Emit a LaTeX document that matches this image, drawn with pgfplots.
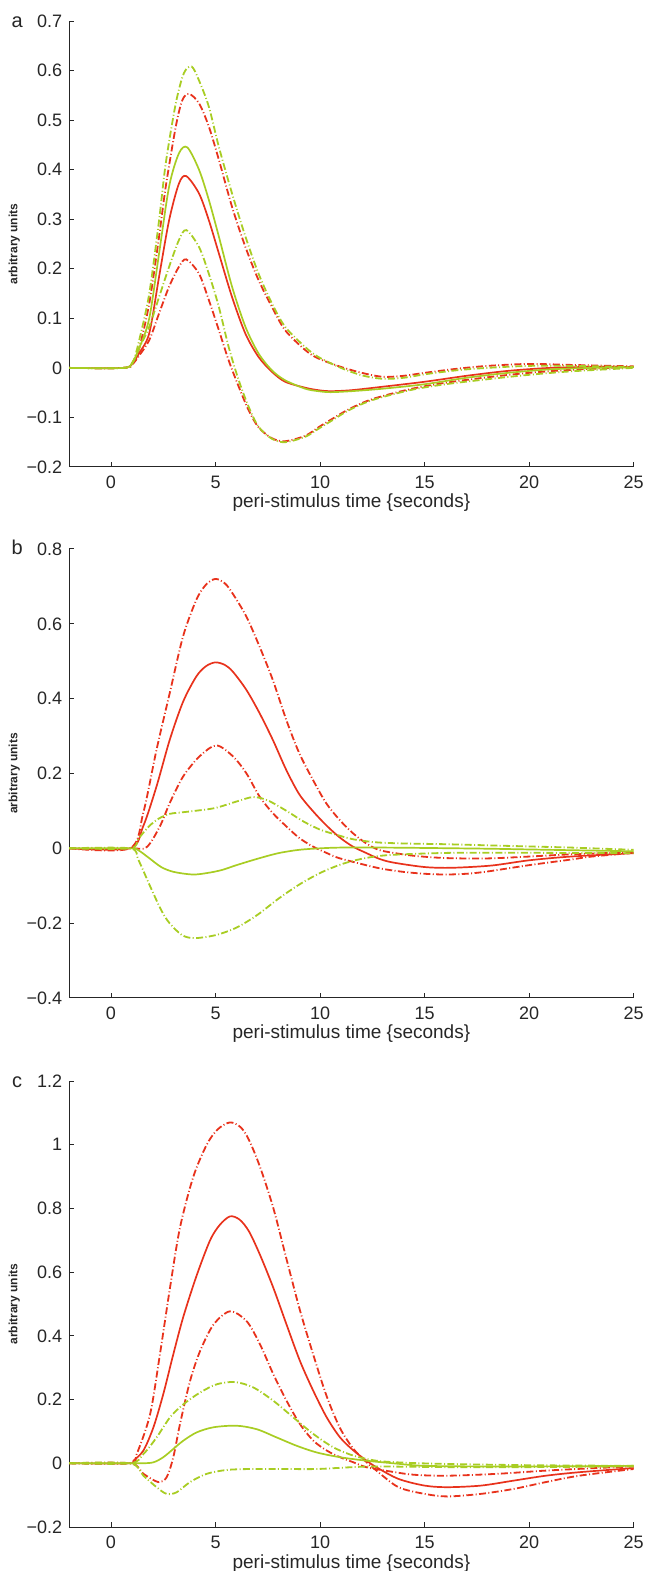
\documentclass[border=0pt]{standalone}
\usepackage{fontspec}
\setmainfont{Liberation Sans}
\usepackage{pgfplots}
\pgfplotsset{compat=1.18}

\definecolor{hrfred}{RGB}{232,50,28}
\definecolor{hrfgreen}{RGB}{168,205,35}

\tikzset{letter/.style={font=\fontsize{10}{12}\selectfont, text=black!85, anchor=base}}
\pgfplotsset{
  panel/.style={
    width=282.2pt, scale only axis, clip=false,
    xmin=-2, xmax=25, xtick={0,5,10,15,20,25},
    axis x line*=bottom, axis y line*=left,
    tick align=inside, major tick length=2.5pt,
    axis line style={line width=0.5pt, black!85},
    tick style={line width=0.5pt, black!85},
    /pgf/number format/assume math mode=true,
    tick label style={font=\fontsize{9}{10}\selectfont, text=black!85},
    xticklabel style={yshift=-1pt},
    xlabel={peri-stimulus time \{seconds\}},
    xlabel style={font=\fontsize{9.5}{11}\selectfont, text=black!85,
      at={(axis description cs:0.5,0)}, anchor=base, yshift=-20.5pt},
    ylabel={arbitrary units},
    ylabel style={font=\fontsize{6}{7}\selectfont\bfseries, text=black!85,
      at={(axis description cs:-0.0975,0.5)}, anchor=center},
    no markers,
  },
  mean/.style={line width=0.85pt, smooth, tension=0.5},
  band/.style={line width=0.9pt, smooth, tension=0.5,
    dash pattern=on 3.5pt off 1.2pt on 0.5pt off 1.2pt},
}

\begin{document}
\begin{tikzpicture}
\useasboundingbox (-34.6pt,-22pt) rectangle (288.9pt,763.5pt);

% ---------------- panel a
\begin{axis}[panel, at={(0pt,530pt)}, anchor=south west, height=223pt,
  ymin=-0.2, ymax=0.7, ytick={-0.2,-0.1,0,0.1,0.2,0.3,0.4,0.5,0.6,0.7},
  yticklabels={−0.2,−0.1,0,0.1,0.2,0.3,0.4,0.5,0.6,0.7}]
\addplot[band, hrfred] coordinates {
 (-2,0) (0.6,0) (1.03,0.008) (1.35,0.04) (1.83,0.13) (2.30,0.265) (2.62,0.366)
 (3.10,0.487) (3.41,0.54) (3.73,0.553) (4.21,0.534) (4.68,0.487) (5.16,0.42)
 (5.79,0.325) (6.43,0.244) (7.06,0.177) (7.70,0.123) (8.33,0.076) (9.29,0.036)
 (9.92,0.019) (11,0.002) (12,-0.01) (13,-0.018) (14,-0.016) (15,-0.01)
 (16.5,-0.002) (18,0.004) (20,0.008) (22,0.006) (25,0.003)};
\addplot[band, hrfred] coordinates {
 (-2,0) (0.6,0) (1.03,0.008) (1.35,0.025) (1.83,0.056) (2.30,0.11) (2.78,0.164)
 (3.25,0.204) (3.6,0.219) (4.21,0.19) (4.68,0.137) (5.16,0.076) (5.63,0.015)
 (6.11,-0.038) (6.59,-0.086) (7.06,-0.12) (7.70,-0.142) (8.33,-0.148)
 (9.29,-0.137) (9.92,-0.12) (10.5,-0.105) (11.4,-0.083) (12.5,-0.063)
 (14.3,-0.043) (16,-0.03) (18.2,-0.018) (20,-0.01) (22,-0.004) (25,0.002)};
\addplot[mean, hrfred] coordinates {
 (-2,0) (0.6,0) (1.03,0.01) (1.35,0.03) (1.83,0.07) (2.30,0.184) (2.78,0.298)
 (3.25,0.372) (3.6,0.387) (4.21,0.352) (4.68,0.298) (5.16,0.231) (5.79,0.143)
 (6.43,0.069) (7.06,0.022) (7.70,-0.008) (8.33,-0.028) (9.29,-0.04)
 (9.92,-0.045) (10.5,-0.047) (11.5,-0.045) (13,-0.038) (15,-0.028)
 (17,-0.016) (19,-0.006) (21,0) (23,0.002) (25,0.002)};
\addplot[band, hrfgreen] coordinates {
 (-2,0) (0.6,0) (1.03,0.01) (1.35,0.056) (1.83,0.15) (2.30,0.298) (2.62,0.413)
 (3.10,0.534) (3.49,0.595) (3.86,0.608) (4.21,0.58) (4.68,0.527) (5.16,0.446)
 (5.79,0.352) (6.43,0.265) (7.06,0.19) (7.70,0.13) (8.33,0.083) (9.29,0.042)
 (9.92,0.022) (11,0.0) (12,-0.015) (13,-0.022) (14,-0.02) (15,-0.013)
 (16.5,-0.005) (18,0) (20,0.004) (22,0.004) (25,0.002)};
\addplot[band, hrfgreen] coordinates {
 (-2,0) (0.6,0) (1.03,0.01) (1.35,0.04) (1.83,0.083) (2.30,0.143) (2.78,0.204)
 (3.25,0.258) (3.6,0.278) (4.21,0.244) (4.68,0.19) (5.16,0.123) (5.63,0.042)
 (6.11,-0.025) (6.59,-0.079) (7.06,-0.119) (7.70,-0.143) (8.33,-0.15)
 (9.29,-0.139) (9.92,-0.123) (10.5,-0.108) (11.4,-0.085) (12.5,-0.065)
 (14.3,-0.045) (16,-0.033) (18.2,-0.022) (20,-0.014) (22,-0.007) (25,0)};
\addplot[mean, hrfgreen] coordinates {
 (-2,0) (0.6,0) (1.03,0.012) (1.35,0.04) (1.83,0.1) (2.30,0.231) (2.78,0.366)
 (3.25,0.433) (3.65,0.445) (4.21,0.4) (4.68,0.339) (5.16,0.265) (5.79,0.164)
 (6.43,0.083) (7.06,0.029) (7.70,-0.005) (8.33,-0.025) (9.29,-0.042)
 (9.92,-0.047) (10.5,-0.049) (11.5,-0.047) (13,-0.042) (15,-0.033)
 (17,-0.02) (19,-0.01) (21,-0.003) (23,0) (25,0.001)};
\node[letter] at (axis description cs:-0.0921,1) [yshift=-3pt] {a};
\end{axis}

% ---------------- panel b
\begin{axis}[panel, at={(0pt,264.5pt)}, anchor=south west, height=224.5pt,
  ymin=-0.4, ymax=0.8, ytick={-0.4,-0.2,0,0.2,0.4,0.6,0.8},
  yticklabels={−0.4,−0.2,0,0.2,0.4,0.6,0.8}]
\addplot[band, hrfred] coordinates {
 (-2,0) (0.9,0) (1.54,0.094) (2.18,0.264) (2.81,0.415) (3.45,0.567)
 (4.09,0.665) (4.55,0.705) (5.0,0.72) (5.45,0.708) (5.83,0.68) (6.47,0.62)
 (7.1,0.54) (7.74,0.45) (8.38,0.344) (9.0,0.255) (9.65,0.184) (10.29,0.121)
 (10.92,0.077) (11.56,0.041) (12.19,0.014) (12.8,-0.004) (13.5,-0.012)
 (14.5,-0.02) (16,-0.026) (18,-0.027) (20,-0.022) (22,-0.016) (25,-0.01)};
\addplot[band, hrfred] coordinates {
 (-2,0) (0.9,0) (1.7,0.003) (2.34,0.059) (2.81,0.121) (3.45,0.192)
 (4.24,0.246) (5.04,0.275) (5.83,0.246) (6.47,0.201) (7.1,0.139)
 (7.74,0.094) (8.38,0.059) (9.0,0.028) (9.65,0.005) (10.3,-0.012)
 (10.9,-0.026) (12.2,-0.045) (13,-0.055) (14,-0.063) (15,-0.068)
 (16,-0.07) (17,-0.068) (18,-0.062) (20,-0.045) (22,-0.03) (23,-0.022)
 (25,-0.012)};
\addplot[mean, hrfred] coordinates {
 (-2,0) (0.9,0) (1.54,0.059) (2.18,0.166) (2.81,0.29) (3.45,0.392)
 (4.09,0.46) (4.55,0.487) (5.0,0.497) (5.45,0.49) (5.83,0.472) (6.47,0.424)
 (7.1,0.362) (7.74,0.29) (8.38,0.21) (9.0,0.145) (9.65,0.1) (10.29,0.062)
 (10.92,0.03) (11.56,0.005) (12.19,-0.012) (12.83,-0.028) (13.5,-0.038)
 (15,-0.05) (16.3,-0.052) (18.2,-0.046) (20,-0.032) (22,-0.022) (25,-0.013)};
\addplot[band, hrfgreen] coordinates {
 (-2,0) (0.9,0) (1.3,0.025) (1.8,0.058) (2.3,0.08) (2.8,0.092) (3.2,0.095)
 (4,0.1) (5,0.108) (6,0.125) (6.8,0.137) (7.5,0.128) (8.4,0.1) (9.2,0.072)
 (10,0.05) (10.8,0.036) (11.6,0.024) (12.7,0.016) (14,0.013) (16,0.011)
 (18,0.008) (20,0.005) (22,0.002) (25,-0.004)};
\addplot[band, hrfgreen] coordinates {
 (-2,0) (0.9,0) (1.3,-0.03) (1.86,-0.1) (2.4,-0.165) (2.8,-0.2) (3.4,-0.232)
 (4,-0.24) (5,-0.232) (6,-0.212) (7,-0.178) (8,-0.135) (9,-0.097)
 (10,-0.066) (11,-0.043) (12,-0.028) (13.3,-0.018) (16.3,-0.012)
 (20,-0.012) (25,-0.013)};
\addplot[mean, hrfgreen] coordinates {
 (-2,0) (0.9,0) (1.3,-0.005) (1.8,-0.025) (2.4,-0.05) (3.0,-0.063)
 (3.9,-0.07) (4.6,-0.066) (5.3,-0.058) (6,-0.045) (7,-0.028) (8,-0.013)
 (9,-0.004) (10,0) (11,0.002) (13,0.002) (15,0.001) (18,-0.001)
 (20,-0.003) (22,-0.005) (25,-0.008)};
\node[letter] at (axis description cs:-0.0921,1) [yshift=-3pt] {b};
\end{axis}

% ---------------- panel c
\begin{axis}[panel, at={(0pt,0pt)}, anchor=south west, height=223pt,
  ymin=-0.2, ymax=1.2, ytick={-0.2,0,0.2,0.4,0.6,0.8,1,1.2},
  yticklabels={−0.2,0,0.2,0.4,0.6,0.8,1,1.2}]
\addplot[band, hrfred] coordinates {
 (-2,0) (0.91,0) (1.23,0.029) (1.87,0.154) (2.34,0.342) (2.82,0.55)
 (3.3,0.74) (3.94,0.9) (4.58,1.0) (5.1,1.048) (5.69,1.07) (6.2,1.055)
 (6.6,1.015) (7.13,0.93) (7.77,0.8) (8.4,0.64) (9.04,0.48) (9.68,0.34)
 (10.32,0.21) (10.96,0.11) (11.6,0.045) (12.23,0.003) (12.7,-0.023)
 (13.75,-0.075) (15,-0.096) (16.1,-0.104) (17.7,-0.096) (19.3,-0.08)
 (20.8,-0.059) (22.4,-0.039) (25,-0.018)};
\addplot[band, hrfred] coordinates {
 (-2,0) (0.91,0) (1.55,-0.033) (2.26,-0.059) (2.66,-0.044) (2.98,0.019)
 (3.3,0.123) (3.78,0.258) (4.26,0.352) (4.9,0.435) (5.69,0.477) (6.49,0.446)
 (7.13,0.373) (7.77,0.279) (8.4,0.196) (9.04,0.123) (9.68,0.071)
 (10.32,0.04) (10.96,0.019) (11.6,0.003) (12.23,-0.0125) (13.3,-0.025)
 (14.5,-0.036) (16.1,-0.039) (18.5,-0.033) (20.8,-0.023) (23.2,-0.015)
 (25,-0.01)};
\addplot[mean, hrfred] coordinates {
 (-2,0) (0.91,0) (1.07,0.008) (1.55,0.04) (2.03,0.113) (2.5,0.217)
 (2.98,0.342) (3.46,0.46) (4.1,0.59) (4.74,0.7) (5.2,0.748) (5.69,0.775)
 (6.15,0.765) (6.6,0.728) (7.13,0.654) (7.77,0.55) (8.4,0.435) (9.04,0.321)
 (9.68,0.227) (10.32,0.144) (10.96,0.081) (11.6,0.04) (12.23,0.008)
 (12.7,-0.0125) (13.75,-0.049) (15,-0.07) (16.1,-0.075) (17.7,-0.07)
 (19.3,-0.054) (20.8,-0.039) (22.4,-0.028) (25,-0.015)};
\addplot[band, hrfgreen] coordinates {
 (-2,0) (0.91,0) (1.55,0.029) (2.18,0.081) (2.82,0.144) (3.46,0.185)
 (4.26,0.222) (5.06,0.248) (5.93,0.255) (6.81,0.238) (7.77,0.196)
 (8.72,0.144) (9.68,0.092) (10.64,0.05) (11.6,0.024) (12.7,0.008)
 (14,0.002) (16,-0.002) (20,-0.006) (25,-0.008)};
\addplot[band, hrfgreen] coordinates {
 (-2,0) (0.91,0) (1.55,-0.039) (2.18,-0.075) (2.66,-0.096) (3.14,-0.091)
 (3.78,-0.059) (4.58,-0.033) (5.53,-0.021) (6.65,-0.018) (8.25,-0.018)
 (9.84,-0.018) (11.44,-0.0125) (12.7,-0.01) (16,-0.012) (20,-0.012)
 (25,-0.01)};
\addplot[mean, hrfgreen] coordinates {
 (-2,0) (0.91,0) (1.5,0) (2.03,0.003) (2.5,0.019) (2.98,0.045) (3.46,0.071)
 (4.1,0.097) (4.9,0.113) (6.0,0.118) (6.97,0.107) (7.93,0.081) (8.88,0.055)
 (9.84,0.034) (10.96,0.019) (12.23,0.008) (13.5,0) (15,-0.008) (18,-0.01)
 (20,-0.01) (25,-0.008)};
\node[letter] at (axis description cs:-0.0921,1) [yshift=-3pt] {c};
\end{axis}
\end{tikzpicture}
\end{document}
